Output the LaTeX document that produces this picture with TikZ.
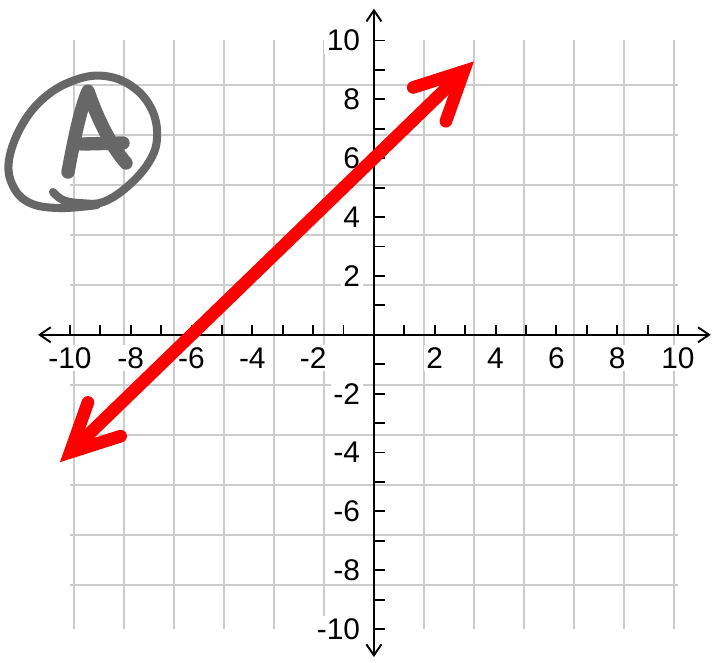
\documentclass[tikz,border=0pt]{standalone}
\usepackage{fontspec}
\setmainfont{Liberation Sans}
\usetikzlibrary{arrows.meta}

\definecolor{gridgray}{HTML}{CCCCCC}
\definecolor{pengray}{HTML}{676767}

\tikzset{
    gridline/.style={draw=gridgray, line width=1.15pt},
    axisline/.style={line width=1.1pt, -{Straight Barb[length=0.22cm, width=0.3cm]}},
    tickline/.style={line width=1.1pt},
    numlbl/.style={fill=white, inner sep=1.5pt, font=\fontsize{17}{20}\selectfont},
    redline/.style={draw=red, line width=7.2pt,
        {Straight Barb[length=0.95cm, width=0.94cm, line cap=round, line join=miter]}-{Straight Barb[length=0.95cm, width=0.94cm, line cap=round, line join=miter]}},
    pen/.style={draw=pengray, line cap=round, line join=round}
}

\begin{document}
\begin{tikzpicture}[x=0.608cm, y=0.5886cm]
        \useasboundingbox (-12.30,-11.12) rectangle (11.12,11.376);

        % grid
        \draw[gridline] (-10,-10) grid (10,10);

        % axes
        \coordinate (xl) at (0,0);
        \coordinate (xr) at (11.08,0);
        \coordinate (xleft) at (-11.05,0);
        \coordinate (yt) at (0,11.08);
        \coordinate (yb) at (0,-10.95);
        \draw[axisline] (xl) -- (xr);
        \draw[axisline] (xl) -- (xleft);
        \draw[axisline] (xl) -- (yt);
        \draw[axisline] (xl) -- (yb);

        \foreach \i in {-10,...,10} {
            \draw[tickline] (\i,0) -- (\i,0.34);
            \draw[tickline] (0,\i) -- (0.36,\i);
        }

        % labels
        \foreach \i in {-10,-8,-6,-4,-2,2,4,6,8,10} {
            \node[numlbl] (xn\i) at (\i,-0.79) {\i};
            \node[numlbl, anchor=east] (yn\i) at (-0.36,\i) {\i};
        }

        % the line y = x + 6
        \coordinate (lo) at (-10.33,-4.33);
        \coordinate (hi) at (3.29,9.29);
        \draw[redline] (lo) -- (hi);

        % circled A
        \begin{scope}[shift={(-12.30,11.376)}, x=0.02cm, y=-0.02cm]
            \draw[pen, line width=4.6pt] plot[smooth, tension=0.65] coordinates {
                (53,192) (63,200) (80,203) (103,202) (128,186) (149,162) (157,138)
                (152,110) (133,87) (105,76) (75,80) (45,97) (22,125) (9,160)
                (13,186) (30,203) (60,208) (97,205)};
            \draw[pen, line width=7.6pt] (68,172) .. controls (74,140) and (80,110) .. (88,91)
                .. controls (96,115) and (110,145) .. (126,163);
            \draw[pen, line width=7.6pt] (82,144) -- (123,143);
        \end{scope}
    \end{tikzpicture}
\end{document}
